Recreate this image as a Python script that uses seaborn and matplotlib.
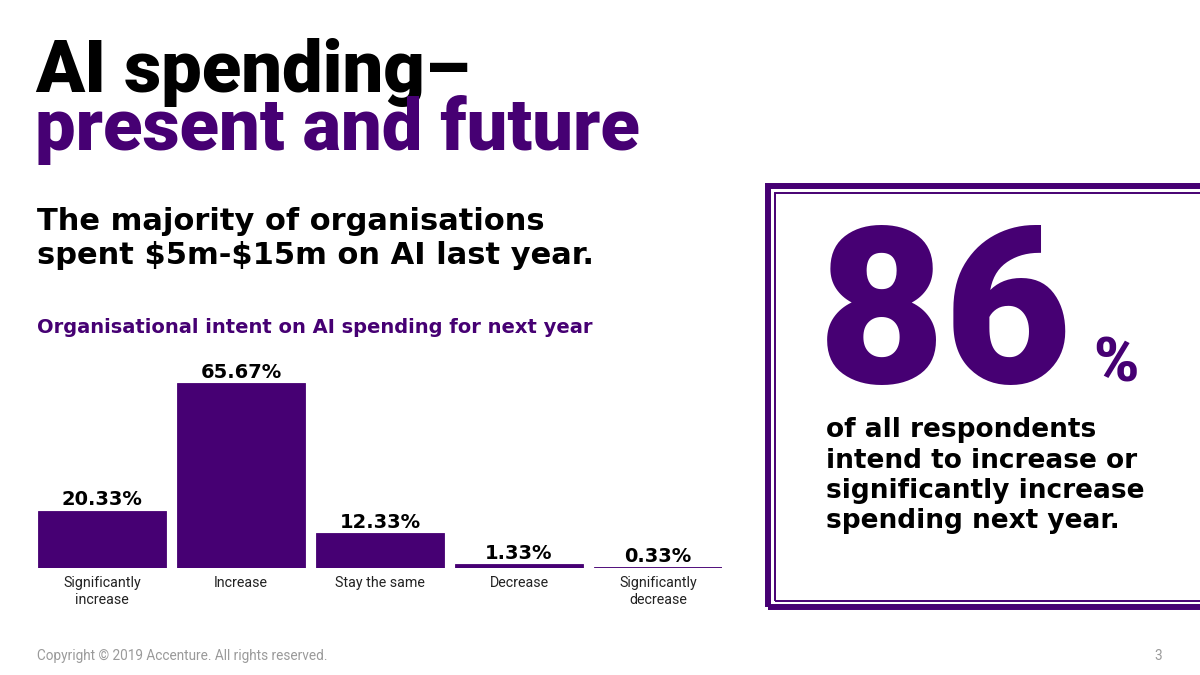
import matplotlib.pyplot as plt
import seaborn as sns
import pandas as pd
from matplotlib.patches import Rectangle

# data
categories = ['Significantly\nincrease', 'Increase', 'Stay the same', 'Decrease', 'Significantly\ndecrease']
shares = [20.33, 65.67, 12.33, 1.33, 0.33]
share_labels = ['20.33%', '65.67%', '12.33%', '1.33%', '0.33%']

PURPLE = '#460073'
W, H = 1200, 675
WIDE = ['DejaVu Sans']

sns.set_style('white')
plt.rcParams['font.family'] = ['Roboto', 'DejaVu Sans']

def fx(x):
    return x / W

def fy(y):
    return 1 - y / H

fig = plt.figure(figsize=(12, 6.75), dpi=100)
fig.patch.set_facecolor('white')

ax = fig.add_axes([fx(38), fy(568), (722 - 38) / W, 197 / H])
df = pd.DataFrame({'cat': categories, 'share': shares})
sns.barplot(data=df, x='cat', y='share', color=PURPLE, saturation=1, width=0.92, ax=ax,
            edgecolor=PURPLE, linewidth=0.6)
ax.set_xlim(-0.46, 4.46)
ax.set_ylim(0, 70)
ax.bar_label(ax.containers[0], labels=share_labels, padding=1,
             fontsize=14, fontweight='bold', color='black', family=WIDE)
ax.set_xlabel('')
ax.set_ylabel('')
ax.set_yticks([])
ax.tick_params(axis='x', length=0, pad=6, labelsize=10.3, labelcolor='#222222')
for s in ax.spines.values():
    s.set_visible(False)
ax.set_facecolor('none')

# headings
fig.text(fx(35), fy(92), 'AI spending–', fontsize=52, fontweight='black', color='black')
fig.text(fx(35), fy(150), 'present and future', fontsize=52, fontweight='black', color=PURPLE)
fig.text(fx(37), fy(230), 'The majority of organisations', fontsize=22, fontweight='bold',
         color='black', family=WIDE)
fig.text(fx(37), fy(264), r'spent \$5m-\$15m on AI last year.', fontsize=22, fontweight='bold',
         color='black', family=WIDE)
fig.text(fx(37), fy(333), 'Organisational intent on AI spending for next year', fontsize=14,
         fontweight='bold', color=PURPLE, family=WIDE)

# highlight box
fig.patches.append(Rectangle((fx(768), fy(607)), fx(1250 - 768), (607 - 186) / H,
                             transform=fig.transFigure, fill=False, edgecolor=PURPLE, lw=4.3))
fig.patches.append(Rectangle((fx(775), fy(601)), fx(1250 - 775), (601 - 193) / H,
                             transform=fig.transFigure, fill=False, edgecolor=PURPLE, lw=1.4))

fig.text(fx(818), fy(383), '86', fontsize=158, fontweight='black', color=PURPLE)
fig.text(fx(1093), fy(381), '%', fontsize=44, fontweight='black', color=PURPLE)
lines = ['of all respondents', 'intend to increase or', 'significantly increase', 'spending next year.']
for i, t in enumerate(lines):
    fig.text(fx(826), fy(437 + i * 30.5), t, fontsize=19, fontweight='bold', color='black', family=WIDE)

# footer
fig.text(fx(37), fy(660), 'Copyright © 2019 Accenture. All rights reserved.', fontsize=9.8, color='#9a9a9a')
fig.text(fx(1162), fy(660), '3', fontsize=9.8, color='#9a9a9a', ha='right')

fig.savefig('out.png', dpi=100)
